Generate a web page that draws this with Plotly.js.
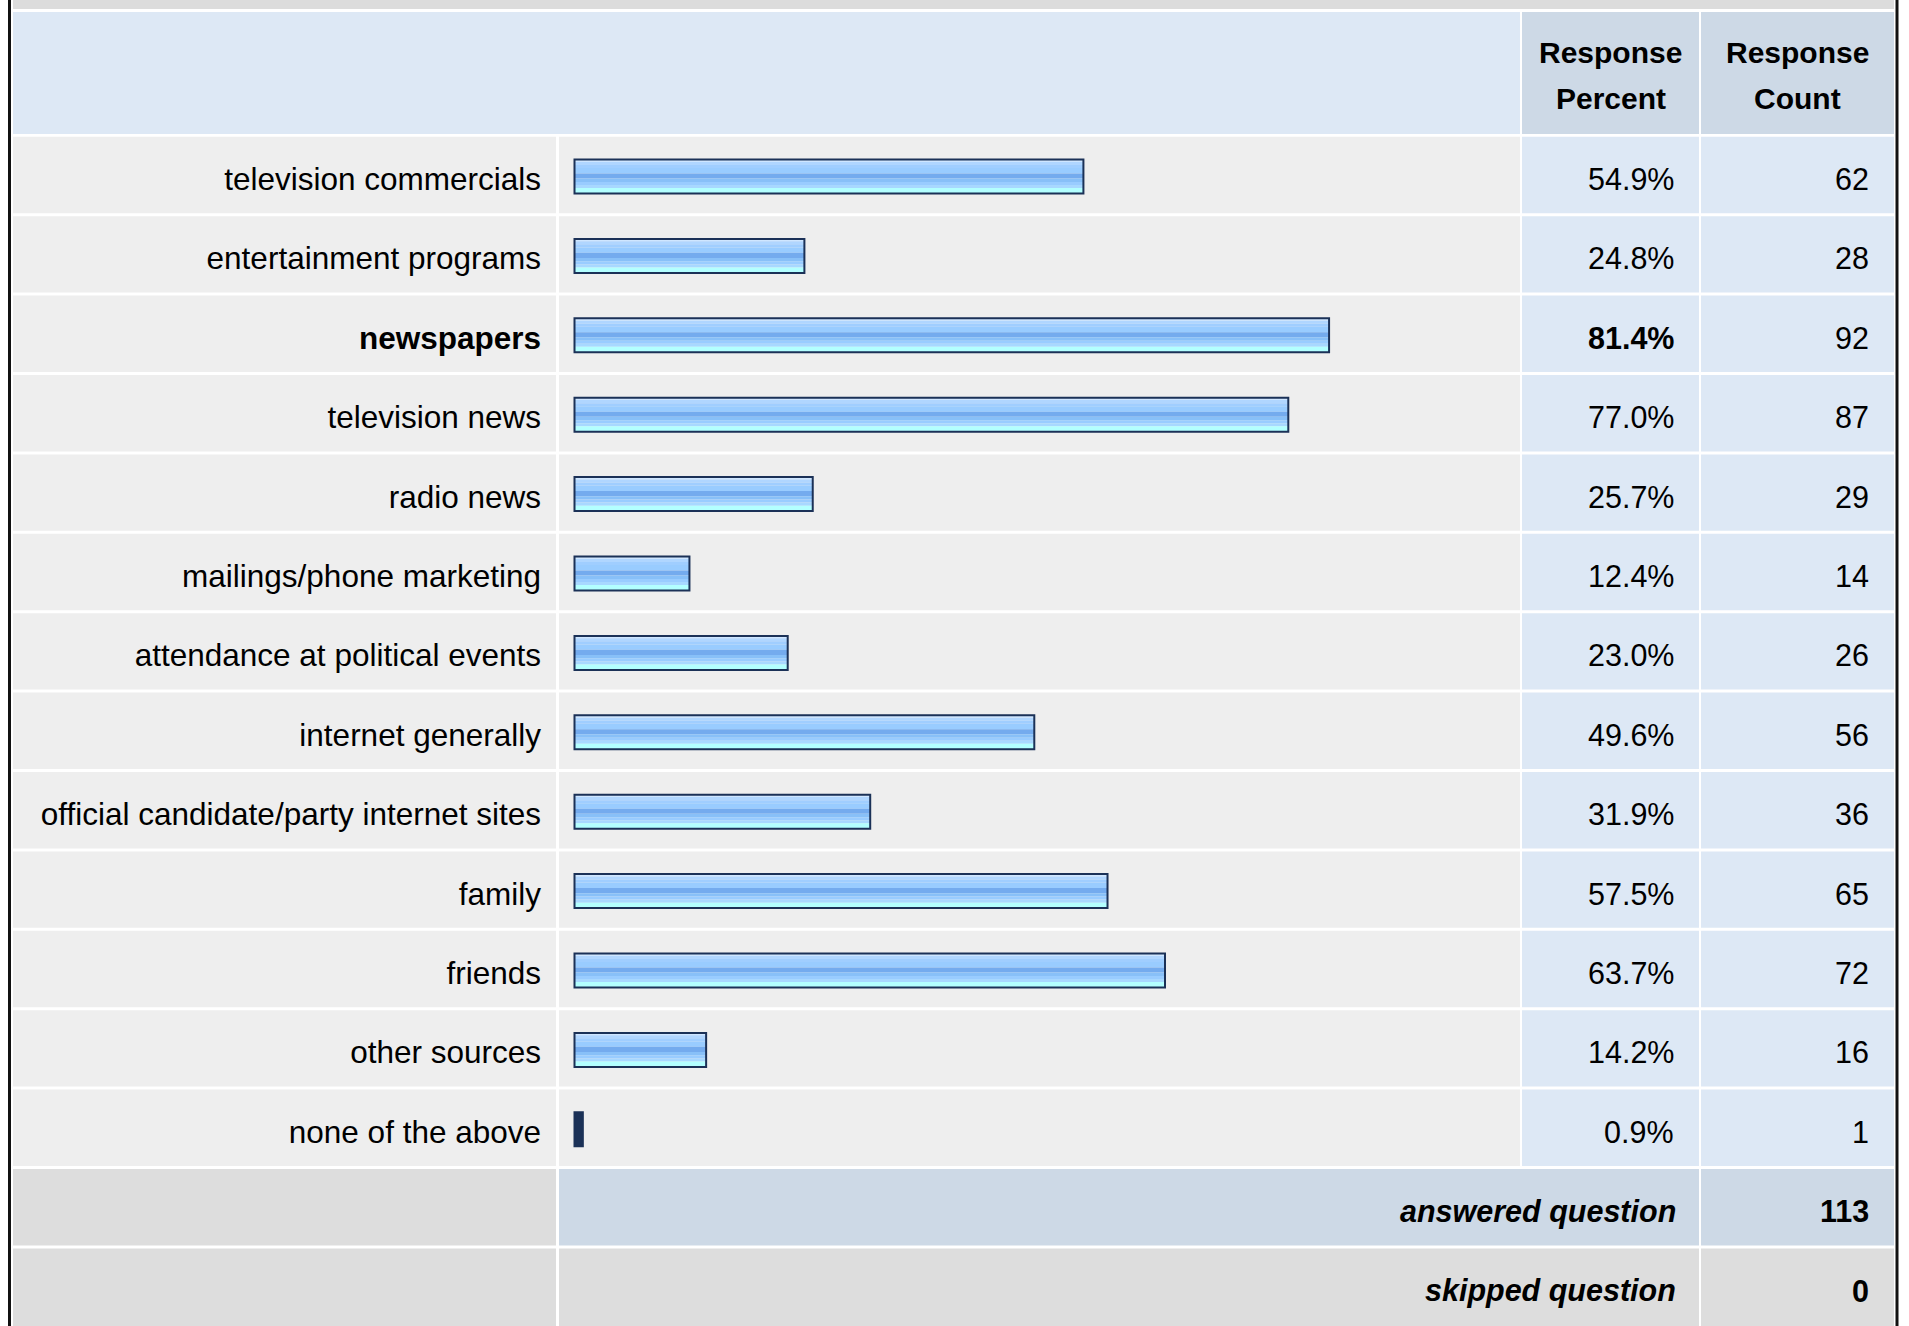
<!DOCTYPE html>
<html>
<head>
<meta charset="utf-8">
<script src="https://cdn.plot.ly/plotly-3.0.1.min.js"></script>
<style>
  html, body { margin: 0; padding: 0; background: #ffffff; }
  #chart { width: 1909px; height: 1326px; }
</style>
</head>
<body>
<div id="chart"></div>
<script>
// ---------------- DATA ----------------
const categories = [
  'television commercials',
  'entertainment programs',
  'newspapers',
  'television news',
  'radio news',
  'mailings/phone marketing',
  'attendance at political events',
  'internet generally',
  'official candidate/party internet sites',
  'family',
  'friends',
  'other sources',
  'none of the above'
];
const responsePercent = [54.9, 24.8, 81.4, 77.0, 25.7, 12.4, 23.0, 49.6, 31.9, 57.5, 63.7, 14.2, 0.9];
const responseCount = [62, 28, 92, 87, 29, 14, 26, 56, 36, 65, 72, 16, 1];
const headerLine1 = ['Response', 'Response'];
const headerLine2 = ['Percent', 'Count'];
const footerLabels = ['answered question', 'skipped question'];
const footerValues = [113, 0];

// ---------------- STYLE / GEOMETRY ----------------
const W = 1909, H = 1326;
const ROW0 = 175, PITCH = 79.4;           // pixel centre of first row, row pitch
const X0PX = 574.5, PXPCT = 9.27;          // pixel of 0 %, pixels per percent
const BAR_DOMAIN = [559, 1520];
const BW = 34 / PITCH;                     // bar thickness in category units
const BSHIFT = 1.5 / PITCH;                // bars sit slightly below row centre
const NAVY = '#1b3157';
const STRIPES = [
  [0.00, 0.07, '#cfe6ff'],
  [0.07, 0.16, '#b0d6ff'],
  [0.16, 0.25, '#a0ceff'],
  [0.25, 0.41, '#99ccff'],
  [0.41, 0.56, '#74abee'],
  [0.56, 0.66, '#88c0f8'],
  [0.66, 0.75, '#99ccff'],
  [0.75, 0.84, '#a8d8ff'],
  [0.84, 1.00, '#b3ffff']
];
const FONT = 'Liberation Sans, Arial, Helvetica, sans-serif';
const C_CELL = '#eeeeee', C_BLUE = '#dde8f5', C_BLUE2 = '#cdd9e6', C_GRAY = '#dddddd';

const px2u = p => (p - ROW0) / PITCH;      // pixel y -> category axis units
const px2x = p => p / W;                   // pixel x -> paper
const maxPct = Math.max(...responsePercent);

// ---------------- TRACES ----------------
const traces = [];
STRIPES.forEach(s => {
  traces.push({
    type: 'bar', orientation: 'h',
    x: responsePercent, y: categories,
    width: BW * (s[1] - s[0]),
    offset: -BW / 2 + BSHIFT + BW * s[0],
    marker: { color: s[2], line: { width: 0 } },
    hoverinfo: 'skip', showlegend: false
  });
});
traces.push({
  type: 'bar', orientation: 'h',
  x: responsePercent, y: categories,
  width: BW, offset: -BW / 2 + BSHIFT,
  marker: { color: responsePercent.map(v => v < 2 ? NAVY : 'rgba(0,0,0,0)'),
            line: { color: NAVY, width: 2 } },
  hoverinfo: 'skip', showlegend: false
});

// ---------------- SHAPES (table cells) ----------------
const shapes = [];
function cell(x0, x1, y0, y1, color) {
  shapes.push({ type: 'rect', layer: 'below', xref: 'paper', yref: 'y',
    x0: px2x(x0), x1: px2x(x1), y0: y0, y1: y1,
    fillcolor: color, line: { width: 0 } });
}
const d = 1.5 / PITCH;
// top band (row above header, cut off)
cell(13, 1894, px2u(-20), px2u(9), '#dcdcdc');
// header
cell(13, 1520, px2u(12), px2u(134), C_BLUE);
cell(1522, 1699, px2u(12), px2u(134), C_BLUE2);
cell(1701, 1894, px2u(12), px2u(134), C_BLUE2);
// data rows
categories.forEach((c, i) => {
  const y0 = i - 0.5 + d, y1 = i + 0.5 - d;
  cell(13, 556, y0, y1, C_CELL);
  cell(559, 1520, y0, y1, C_CELL);
  cell(1522, 1699, y0, y1, C_BLUE);
  cell(1701, 1894, y0, y1, C_BLUE);
});
// footer rows
const nA = categories.length, nS = categories.length + 1;
cell(13, 556, nA - 0.5 + d, nA + 0.5 - d, C_GRAY);
cell(559, 1699, nA - 0.5 + d, nA + 0.5 - d, C_BLUE2);
cell(1701, 1894, nA - 0.5 + d, nA + 0.5 - d, C_BLUE2);
cell(13, 556, nS - 0.5 + d, nS + 1.5, C_GRAY);
cell(559, 1699, nS - 0.5 + d, nS + 1.5, C_GRAY);
cell(1701, 1894, nS - 0.5 + d, nS + 1.5, C_GRAY);
// outer table borders
[9.5, 1897].forEach(xp => {
  shapes.push({ type: 'line', layer: 'above', xref: 'paper', yref: 'paper',
    x0: px2x(xp), x1: px2x(xp), y0: 0, y1: 1,
    line: { color: '#111111', width: 3 } });
});

// ---------------- ANNOTATIONS ----------------
const annotations = [];
function txt(text, xpx, u, anchor, size, extra) {
  annotations.push(Object.assign({
    text: text, xref: 'paper', yref: 'y', x: px2x(xpx), y: u,
    xanchor: anchor, yanchor: 'middle', showarrow: false,
    font: { family: FONT, size: size, color: '#000000' }, yshift: -4
  }, extra || {}));
}
// header
const hdrX = [1610.5, 1797.5];
headerLine1.forEach((t, k) => txt('<b>' + t + '</b>', hdrX[k], px2u(52), 'center', 30, { yshift: 0 }));
headerLine2.forEach((t, k) => txt('<b>' + t + '</b>', hdrX[k], px2u(98), 'center', 30, { yshift: 0 }));
// values
responsePercent.forEach((v, i) => {
  const s = v.toFixed(1) + '%';
  txt(v === maxPct ? '<b>' + s + '</b>' : s, 1676, i, 'right', 30.5);
});
responseCount.forEach((v, i) => txt(String(v), 1871, i, 'right', 30.5));
// footer
footerLabels.forEach((t, k) => txt('<b><i>' + t + '</i></b>', 1678, nA + k, 'right', 30.5));
footerValues.forEach((v, k) => txt('<b>' + v + '</b>', 1871, nA + k, 'right', 30.5));

// ---------------- LAYOUT ----------------
const layout = {
  width: W, height: H,
  margin: { l: 0, r: 0, t: 0, b: 0, pad: 0 },
  paper_bgcolor: '#ffffff', plot_bgcolor: 'rgba(0,0,0,0)',
  barmode: 'overlay',
  showlegend: false,
  xaxis: {
    domain: [px2x(BAR_DOMAIN[0]), px2x(BAR_DOMAIN[1])],
    range: [(BAR_DOMAIN[0] - X0PX) / PXPCT, (BAR_DOMAIN[1] - X0PX) / PXPCT],
    autorange: false, showgrid: false, zeroline: false, showline: false,
    showticklabels: false, ticks: '', fixedrange: true
  },
  yaxis: {
    type: 'category',
    categoryorder: 'array', categoryarray: categories,
    range: [px2u(H), px2u(0)], autorange: false,
    showgrid: false, zeroline: false, showline: false, ticks: '',
    tickvals: categories,
    ticktext: categories.map((c, i) => responsePercent[i] === maxPct ? '<b>' + c + '</b>' : c),
    tickfont: { family: FONT, size: 31.5, color: '#000000' },
    ticklabelstandoff: 17,
    ticklabelshift: -4,
    fixedrange: true
  },
  shapes: shapes,
  annotations: annotations
};

Plotly.newPlot('chart', traces, layout, { displayModeBar: false, staticPlot: true });
</script>
</body>
</html>
